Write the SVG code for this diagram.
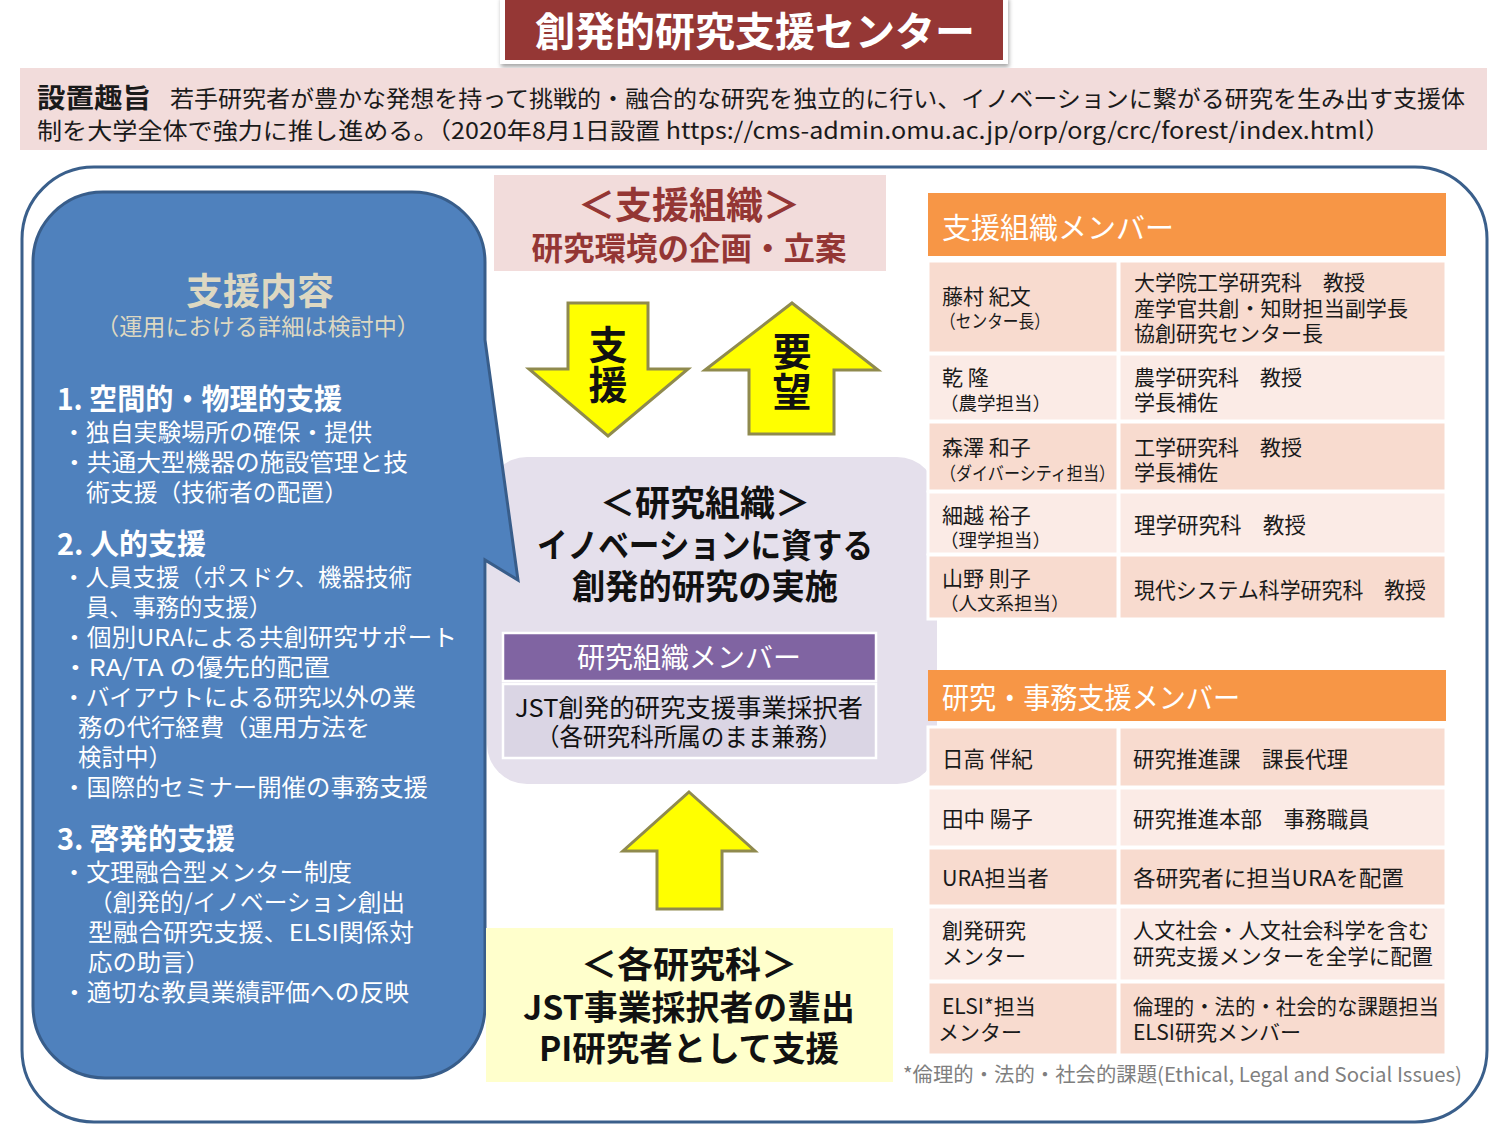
<svg xmlns="http://www.w3.org/2000/svg" width="1500" height="1125" viewBox="0 0 1500 1125">
<defs>
<style>
text{font-family:"Noto Sans CJK JP","Noto Sans",sans-serif;}
.w{fill:#ffffff;}
.bg{fill:#ddd8c2;}
.b{font-weight:bold;}
.blk{fill:#111111;}
.red{fill:#943634;}
.hd{font-size:29px;font-weight:bold;fill:#ffffff;}
.it{font-size:23.5px;fill:#ffffff;}
.tc{font-size:21.5px;fill:#1a1a1a;}
.t2{font-size:21px;}
.ts{font-size:18.5px;}
.th{font-size:29px;fill:#ffffff;}
.dk{fill:#f8dbcf;stroke:#ffffff;stroke-width:3;}
.lt{fill:#fbebe6;stroke:#ffffff;stroke-width:3;}
.arrow{fill:#ffff00;stroke:#8f8a4e;stroke-width:3;stroke-linejoin:miter;}
.mid{text-anchor:middle;}
.vt{writing-mode:vertical-rl;font-size:39px;font-weight:bold;fill:#111111;letter-spacing:1px;}
</style>
<filter id="sh" x="-5%" y="-20%" width="110%" height="150%">
<feDropShadow dx="1" dy="3" stdDeviation="2" flood-color="#000" flood-opacity="0.35"/>
</filter>
</defs>
<rect width="1500" height="1125" fill="#ffffff"/>

<g id="title">
<rect x="500" y="-4" width="508" height="68" fill="#ffffff" filter="url(#sh)"/>
<rect x="505" y="-2" width="498" height="62" fill="#953735"/>
<text x="755" y="46" class="w b mid" font-size="40">創発的研究支援センター</text>
</g>

<g id="purpose">
<rect x="20" y="68" width="1467" height="82" fill="#f2dcdb"/>
<text x="37" y="108" font-size="27" font-weight="bold" fill="#1a1a1a" textLength="114" lengthAdjust="spacingAndGlyphs">設置趣旨</text>
<text x="170" y="107" font-size="23" fill="#1a1a1a" textLength="1295" lengthAdjust="spacingAndGlyphs">若手研究者が豊かな発想を持って挑戦的・融合的な研究を独立的に行い、イノベーションに繋がる研究を生み出す支援体</text>
<text x="37" y="139" font-size="23" fill="#1a1a1a" textLength="1353" lengthAdjust="spacingAndGlyphs">制を大学全体で強力に推し進める。（2020年8月1日設置  https://cms-admin.omu.ac.jp/orp/org/crc/forest/index.html）</text>
</g>

<g id="frame">
<rect x="22" y="167" width="1465" height="955" rx="72" ry="72" fill="none" stroke="#3a5f8b" stroke-width="3"/>
</g>

<g id="research-org">
<rect x="487" y="457" width="450" height="327" rx="40" ry="40" fill="#e5e0ec"/>
<text class="blk b mid" font-size="35"><tspan x="705" y="516">＜研究組織＞</tspan><tspan x="705" y="558" font-size="34" textLength="336" lengthAdjust="spacingAndGlyphs">イノベーションに資する</tspan><tspan x="705" y="599" font-size="34" textLength="266" lengthAdjust="spacingAndGlyphs">創発的研究の実施</tspan></text>
<rect x="503" y="633" width="373" height="48" fill="#8064a2" stroke="#ffffff" stroke-width="2.5"/>
<text x="689" y="668" class="w mid" font-size="28">研究組織メンバー</text>
<rect x="503" y="684" width="373" height="74" fill="#dad5e4" stroke="#ffffff" stroke-width="2.5"/>
<text class="blk mid" font-size="24.5"><tspan x="689" y="717" textLength="348" lengthAdjust="spacingAndGlyphs">JST創発的研究支援事業採択者</tspan><tspan x="689" y="746" textLength="306" lengthAdjust="spacingAndGlyphs">（各研究科所属のまま兼務）</tspan></text>
</g>

<g id="support-content">
<path d="M 103 192 H 412 A 73 70 0 0 1 485 262 V 340 L 518 580 L 485 560 V 1006 A 72 72 0 0 1 413 1078 H 105 A 72 72 0 0 1 33 1006 V 262 A 70 70 0 0 1 103 192 Z" fill="#4f81bd" stroke="#385d8a" stroke-width="3"/>
<text class="bg mid"><tspan x="260" y="305" font-size="37" font-weight="bold">支援内容</tspan><tspan x="258" y="335" font-size="23" textLength="324" lengthAdjust="spacingAndGlyphs">（運用における詳細は検討中）</tspan></text>
<text class="it"><tspan x="57" y="410" class="hd" textLength="285" lengthAdjust="spacingAndGlyphs">1. 空間的・物理的支援</tspan><tspan x="62" y="441" textLength="310" lengthAdjust="spacingAndGlyphs">・独自実験場所の確保・提供</tspan><tspan x="62" y="471" textLength="346" lengthAdjust="spacingAndGlyphs">・共通大型機器の施設管理と技</tspan><tspan x="86" y="501" textLength="262" lengthAdjust="spacingAndGlyphs">術支援（技術者の配置）</tspan></text>
<text class="it"><tspan x="57" y="555" class="hd">2. 人的支援</tspan><tspan x="62" y="586" textLength="350" lengthAdjust="spacingAndGlyphs">・人員支援（ポスドク、機器技術</tspan><tspan x="86" y="616" textLength="186" lengthAdjust="spacingAndGlyphs">員、事務的支援）</tspan><tspan x="62" y="646" textLength="395" lengthAdjust="spacingAndGlyphs">・個別URAによる共創研究サポート</tspan><tspan x="62" y="676" textLength="268" lengthAdjust="spacingAndGlyphs">・RA/TA の優先的配置</tspan><tspan x="62" y="706" textLength="354" lengthAdjust="spacingAndGlyphs">・バイアウトによる研究以外の業</tspan><tspan x="78" y="736" textLength="292" lengthAdjust="spacingAndGlyphs">務の代行経費（運用方法を</tspan><tspan x="78" y="766">検討中）</tspan><tspan x="62" y="796" textLength="366" lengthAdjust="spacingAndGlyphs">・国際的セミナー開催の事務支援</tspan></text>
<text class="it"><tspan x="57" y="850" class="hd">3. 啓発的支援</tspan><tspan x="62" y="881" textLength="290" lengthAdjust="spacingAndGlyphs">・文理融合型メンター制度</tspan><tspan x="89" y="911" textLength="316" lengthAdjust="spacingAndGlyphs">（創発的/イノベーション創出</tspan><tspan x="88" y="941" textLength="326" lengthAdjust="spacingAndGlyphs">型融合研究支援、ELSI関係対</tspan><tspan x="88" y="971" textLength="122" lengthAdjust="spacingAndGlyphs">応の助言）</tspan><tspan x="62" y="1001" textLength="347" lengthAdjust="spacingAndGlyphs">・適切な教員業績評価への反映</tspan></text>
</g>

<g id="support-org">
<rect x="494" y="175" width="392" height="96" fill="#f2dcdb"/>
<text class="red b mid"><tspan x="689" y="219" font-size="37">＜支援組織＞</tspan><tspan x="689" y="260" font-size="31.5">研究環境の企画・立案</tspan></text>
</g>

<g id="faculties">
<rect x="486" y="928" width="407" height="154" fill="#ffffcc"/>
<text class="blk b mid"><tspan x="689" y="978" font-size="36">＜各研究科＞</tspan><tspan x="689" y="1020" font-size="34" textLength="332" lengthAdjust="spacingAndGlyphs">JST事業採択者の輩出</tspan><tspan x="689" y="1061" font-size="34" textLength="300" lengthAdjust="spacingAndGlyphs">PI研究者として支援</tspan></text>
</g>

<g id="connectors">
<g id="arrow-support">
<polygon class="arrow" points="568,303 648,303 648,369 688,369 608,436 529,369 568,369"/>
<text x="608" y="325" class="vt">支援</text>
</g>
<g id="arrow-request">
<polygon class="arrow" points="792,303 878,370 834,370 834,434 749,434 749,370 705,370"/>
<text x="792" y="332" class="vt">要望</text>
</g>
<g id="arrow-faculty">
<polygon class="arrow" points="689,792 755,851 722,851 722,909 657,909 657,851 623,851"/>
</g>
</g>

<g id="support-members">
<rect x="928" y="193" width="518" height="63" fill="#f79646"/>
<text x="942" y="239" class="th">支援組織メンバー</text>
<rect class="dk" x="928" y="261" width="190" height="92"/>
<rect class="dk" x="1119" y="261" width="327" height="92"/>
<rect class="lt" x="928" y="354" width="190" height="67"/>
<rect class="lt" x="1119" y="354" width="327" height="67"/>
<rect class="dk" x="928" y="422" width="190" height="69"/>
<rect class="dk" x="1119" y="422" width="327" height="69"/>
<rect class="lt" x="928" y="492" width="190" height="62"/>
<rect class="lt" x="1119" y="492" width="327" height="62"/>
<rect class="dk" x="928" y="555" width="190" height="64"/>
<rect class="dk" x="1119" y="555" width="327" height="64"/>
<text class="tc t2"><tspan x="942" y="304">藤村 紀文</tspan><tspan x="940" y="328" class="ts" textLength="110" lengthAdjust="spacingAndGlyphs">（センター長）</tspan></text>
<text class="tc t2"><tspan x="1134" y="290">大学院工学研究科　教授</tspan><tspan x="1134" y="316" textLength="274" lengthAdjust="spacingAndGlyphs">産学官共創・知財担当副学長</tspan><tspan x="1134" y="341">協創研究センター長</tspan></text>
<text class="tc t2"><tspan x="942" y="385">乾 隆</tspan><tspan x="940" y="410" class="ts">（農学担当）</tspan></text>
<text class="tc t2"><tspan x="1134" y="385">農学研究科　教授</tspan><tspan x="1134" y="410">学長補佐</tspan></text>
<text class="tc t2"><tspan x="942" y="455">森澤 和子</tspan><tspan x="940" y="480" class="ts" textLength="175" lengthAdjust="spacingAndGlyphs">（ダイバーシティ担当）</tspan></text>
<text class="tc t2"><tspan x="1134" y="455">工学研究科　教授</tspan><tspan x="1134" y="480">学長補佐</tspan></text>
<text class="tc t2"><tspan x="942" y="523">細越 裕子</tspan><tspan x="940" y="547" class="ts">（理学担当）</tspan></text>
<text x="1134" y="533" class="tc">理学研究科　教授</text>
<text class="tc t2"><tspan x="942" y="586">山野 則子</tspan><tspan x="940" y="610" class="ts">（人文系担当）</tspan></text>
<text x="1134" y="598" class="tc" textLength="292" lengthAdjust="spacingAndGlyphs">現代システム科学研究科　教授</text>
</g>

<g id="admin-members">
<rect x="928" y="670" width="518" height="51" fill="#f79646"/>
<text x="942" y="709" class="th" textLength="298" lengthAdjust="spacingAndGlyphs">研究・事務支援メンバー</text>
<rect class="dk" x="928" y="727" width="190" height="60"/>
<rect class="dk" x="1119" y="727" width="327" height="60"/>
<rect class="lt" x="928" y="788" width="190" height="59"/>
<rect class="lt" x="1119" y="788" width="327" height="59"/>
<rect class="dk" x="928" y="848" width="190" height="58"/>
<rect class="dk" x="1119" y="848" width="327" height="58"/>
<rect class="lt" x="928" y="907" width="190" height="74"/>
<rect class="lt" x="1119" y="907" width="327" height="74"/>
<rect class="dk" x="928" y="982" width="190" height="73"/>
<rect class="dk" x="1119" y="982" width="327" height="73"/>
<text x="942" y="767" class="tc">日高 伴紀</text>
<text x="1133" y="767" class="tc">研究推進課　課長代理</text>
<text x="942" y="827" class="tc">田中 陽子</text>
<text x="1133" y="827" class="tc">研究推進本部　事務職員</text>
<text x="942" y="886" class="tc">URA担当者</text>
<text x="1133" y="886" class="tc" textLength="271" lengthAdjust="spacingAndGlyphs">各研究者に担当URAを配置</text>
<text class="tc t2"><tspan x="942" y="938">創発研究</tspan><tspan x="942" y="964">メンター</tspan></text>
<text class="tc t2"><tspan x="1133" y="938" textLength="296" lengthAdjust="spacingAndGlyphs">人文社会・人文社会科学を含む</tspan><tspan x="1133" y="964" textLength="300" lengthAdjust="spacingAndGlyphs">研究支援メンターを全学に配置</tspan></text>
<text class="tc t2"><tspan x="942" y="1014">ELSI*担当</tspan><tspan x="938" y="1040">メンター</tspan></text>
<text class="tc t2"><tspan x="1133" y="1014" textLength="306" lengthAdjust="spacingAndGlyphs">倫理的・法的・社会的な課題担当</tspan><tspan x="1133" y="1040">ELSI研究メンバー</tspan></text>
</g>

<g id="footnote">
<text x="903" y="1082" font-size="20" fill="#7f7f7f" textLength="559" lengthAdjust="spacingAndGlyphs">*倫理的・法的・社会的課題(Ethical, Legal and Social Issues)</text>
</g>
</svg>
